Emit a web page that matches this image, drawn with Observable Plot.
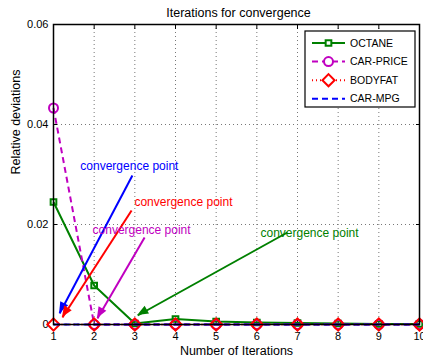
<!DOCTYPE html>
<html>
<head>
<meta charset="utf-8">
<script src="https://cdn.jsdelivr.net/npm/d3@7"></script>
<script src="https://cdn.jsdelivr.net/npm/@observablehq/plot@0.6"></script>
<style>
  html, body { margin: 0; padding: 0; background: #fff; }
  #chart { position: relative; width: 423px; height: 362px; }
</style>
</head>
<body>
<div id="chart"></div>
<script>
// Iterations on the x axis
const iterations = [1, 2, 3, 4, 5, 6, 7, 8, 9, 10];

// Relative deviation per iteration for each data set
const octane   = [0.0245, 0.0078, 0.0002, 0.0011, 0.0006, 0.0004, 0.0003, 0.0002, 0.0001, 0.0001];
const carPrice = [0.0433, 0, 0, 0, 0, 0, 0, 0, 0, 0];
const bodyfat  = [0, 0, 0, 0, 0, 0, 0, 0, 0, 0];
const carMpg   = [0, 0, 0, 0, 0, 0, 0, 0, 0, 0];

const seriesNames = ["OCTANE", "CAR-PRICE", "BODYFAT", "CAR-MPG"];
const seriesValues = [octane, carPrice, bodyfat, carMpg];

// Tick values and labels
const xTicks = [1, 2, 3, 4, 5, 6, 7, 8, 9, 10];
const yTicks = [0, 0.02, 0.04, 0.06];
const yTickLabels = ["0", "0.02", "0.04", "0.06"];

// "convergence point" callouts: label anchor, arrow tail and arrow tip (data units)
const noteLabel = "convergence point";
const noteSeries = ["CAR-MPG", "BODYFAT", "CAR-PRICE", "OCTANE"];
const noteTextX  = [1.66, 2.99, 1.96, 6.09];
const noteTextY  = [0.0316, 0.0244, 0.0188, 0.0182];
const noteTailX  = [2.94, 2.92, 3.24, 6.75];
const noteTailY  = [0.0298, 0.0228, 0.0174, 0.0184];
const noteTipX   = [1.15, 1.22, 2.08, 3.07];
const noteTipY   = [0.0022, 0.0014, 0.0012, 0.0018];

// Styling per series
const styles = {
  "OCTANE":    {color: "#008000", dash: null,  symbol: "square",   r: 3.2, width: 2},
  "CAR-PRICE": {color: "#c000c0", dash: "6,4", symbol: "circle",   r: 4.5, width: 2},
  "BODYFAT":   {color: "#ff0000", dash: "1,3", symbol: "diamond2", r: 5.5, width: 2},
  "CAR-MPG":   {color: "#0000ff", dash: "6,4", symbol: null,       r: 0,   width: 2}
};

const rows = seriesNames.flatMap((name, s) =>
  iterations.map((it, i) => ({series: name, x: it, y: seriesValues[s][i]}))
);
const notes = noteSeries.map((name, i) => ({
  series: name,
  tx: noteTextX[i], ty: noteTextY[i],
  x1: noteTailX[i], y1: noteTailY[i],
  x2: noteTipX[i],  y2: noteTipY[i]
}));

const font = "Liberation Sans, Arial, Helvetica, sans-serif";

const seriesMarks = seriesNames.flatMap(name => {
  const st = styles[name];
  const data = rows.filter(d => d.series === name);
  const marks = [
    Plot.line(data, {x: "x", y: "y", stroke: st.color, strokeWidth: st.width,
      strokeDasharray: st.dash, strokeLinecap: "butt"})
  ];
  if (st.symbol) {
    marks.push(Plot.dot(data, {x: "x", y: "y", symbol: st.symbol, r: st.r,
      stroke: st.color, strokeWidth: 2, fill: "none"}));
  }
  return marks;
});

// Callout arrows: a shaft plus a filled triangular head, then the label
const noteMarks = notes.flatMap(n => {
  const c = styles[n.series].color;
  return [
    Plot.link([n], {x1: "x1", y1: "y1", x2: "x2", y2: "y2", stroke: c, strokeWidth: 2}),
    Plot.link([n], {x1: "x1", y1: "y1", x2: "x2", y2: "y2", stroke: "none",
      render(index, scales, values) {
        const g = d3.create("svg:g");
        for (const i of index) {
          const ax = values.x1[i], ay = values.y1[i], bx = values.x2[i], by = values.y2[i];
          const ang = Math.atan2(by - ay, bx - ax);
          const L = 11, W = 4.5;
          const px = bx - L * Math.cos(ang), py = by - L * Math.sin(ang);
          const nx = -Math.sin(ang) * W, ny = Math.cos(ang) * W;
          g.append("path")
            .attr("d", `M${bx},${by}L${px + nx},${py + ny}L${px - nx},${py - ny}Z`)
            .attr("fill", c);
        }
        return g.node();
      }}),
    Plot.text([n], {x: "tx", y: "ty", text: () => noteLabel, fill: c,
      textAnchor: "start", fontSize: 12})
  ];
});

// Tick labels drawn as text marks in the margins
const xTickRows = xTicks.map(t => ({x: t, label: String(t)}));
const yTickRows = yTicks.map((t, i) => ({y: t, label: yTickLabels[i]}));

const chart = Plot.plot({
  width: 423,
  height: 362,
  marginLeft: 53,
  marginRight: 4,
  marginTop: 24,
  marginBottom: 38,
  style: {fontFamily: font, background: "#fff", color: "#000"},
  x: {domain: [1, 10], axis: null},
  y: {domain: [0, 0.06], axis: null},
  marks: [
    Plot.gridX(xTicks, {stroke: "#777", strokeOpacity: 1, strokeDasharray: "1,3"}),
    Plot.gridY(yTicks, {stroke: "#777", strokeOpacity: 1, strokeDasharray: "1,3"}),
    // short inward tick marks on all four sides of the box
    Plot.axisX(xTicks, {anchor: "bottom", tickSize: -4, text: null, label: null, stroke: "#000"}),
    Plot.axisX(xTicks, {anchor: "top", tickSize: -4, text: null, label: null, stroke: "#000"}),
    Plot.axisY(yTicks, {anchor: "left", tickSize: -4, text: null, label: null, stroke: "#000"}),
    Plot.axisY(yTicks, {anchor: "right", tickSize: -4, text: null, label: null, stroke: "#000"}),
    Plot.text(xTickRows, {x: "x", text: "label", frameAnchor: "bottom", lineAnchor: "middle",
      dy: 12, fontSize: 11}),
    Plot.text(yTickRows, {y: "y", text: "label", frameAnchor: "left", lineAnchor: "middle",
      dx: -5, textAnchor: "end", fontSize: 11}),
    Plot.text(["Number of Iterations"], {frameAnchor: "bottom", lineAnchor: "middle",
      dy: 26, fontSize: 12.5}),
    Plot.text(["Relative deviations"], {frameAnchor: "left", lineAnchor: "middle",
      dx: -38, rotate: -90, fontSize: 12.5}),
    ...seriesMarks,
    Plot.frame({stroke: "#000", strokeWidth: 1.5}),
    ...noteMarks,
    Plot.text(["Iterations for convergence"], {frameAnchor: "top", lineAnchor: "middle",
      dy: -12, dx: 2, fontSize: 12.5})
  ]
});

const svg = d3.select(chart);

// Legend box in the upper-right corner of the plot
const lg = svg.append("g")
  .style("font-family", font).style("font-size", "10.5px").attr("text-anchor", "start");
const boxX = 305, boxY = 31, boxW = 110, boxH = 76, rowH = 18.6;
lg.append("rect").attr("x", boxX).attr("y", boxY).attr("width", boxW).attr("height", boxH)
  .attr("fill", "#fff").attr("stroke", "#000").attr("stroke-width", 1.2);
seriesNames.forEach((name, i) => {
  const st = styles[name];
  const cy = boxY + 12 + i * rowH;
  lg.append("line").attr("x1", boxX + 7).attr("x2", boxX + 40).attr("y1", cy).attr("y2", cy)
    .attr("stroke", st.color).attr("stroke-width", st.width)
    .attr("stroke-dasharray", st.dash);
  if (st.symbol) {
    const sym = {square: d3.symbolSquare, circle: d3.symbolCircle, diamond2: d3.symbolDiamond2}[st.symbol];
    lg.append("path").attr("transform", `translate(${boxX + 23.5},${cy})`)
      .attr("d", d3.symbol(sym, Math.PI * st.r * st.r)())
      .attr("fill", "#fff").attr("stroke", st.color).attr("stroke-width", 2);
  }
  lg.append("text").attr("x", boxX + 45).attr("y", cy).attr("dy", "0.35em")
    .attr("text-anchor", "start").attr("fill", "#000").text(name);
});

document.getElementById("chart").appendChild(chart);
</script>
</body>
</html>
